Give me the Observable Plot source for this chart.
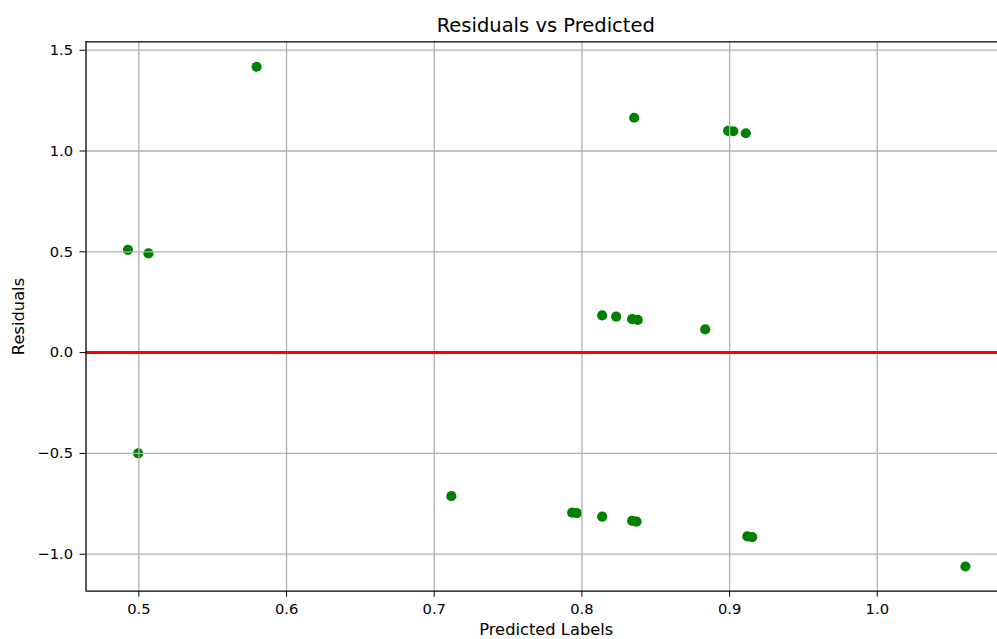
<!DOCTYPE html>
<html>
<head>
<meta charset="utf-8">
<script src="https://cdn.jsdelivr.net/npm/d3@7"></script>
<script src="https://cdn.jsdelivr.net/npm/@observablehq/plot@0.6"></script>
<style>
  html, body { margin: 0; padding: 0; background: #fff; overflow: hidden; }
</style>
</head>
<body>
<div id="chart"></div>
<script>
// ---- data ----
const predicted = [0.4926, 0.5065, 0.4995, 0.5797, 0.8354, 0.8990, 0.9025, 0.9110,
                   0.8137, 0.8232, 0.8340, 0.8378, 0.8835,
                   0.7116, 0.7934, 0.7966, 0.8137, 0.8340, 0.8370, 0.9120, 0.9153, 1.0597];
const residuals = [0.510, 0.492, -0.500, 1.418, 1.165, 1.100, 1.098, 1.088,
                   0.185, 0.178, 0.166, 0.162, 0.115,
                   -0.712, -0.794, -0.796, -0.814, -0.835, -0.838, -0.912, -0.915, -1.061];
const xTicks = [0.5, 0.6, 0.7, 0.8, 0.9, 1.0];
const yTicks = [-1.0, -0.5, 0.0, 0.5, 1.0, 1.5];
const xDomain = [0.4642, 1.0814];
const yDomain = [-1.1835, 1.5417];
const titleText = ["Residuals vs Predicted"];
const xLabel = ["Predicted Labels"];
const yLabel = ["Residuals"];

const points = predicted.map((p, i) => ({p, r: residuals[i]}));

const chart = Plot.plot({
  width: 997,
  height: 639,
  marginTop: 41.3,
  marginBottom: 48.3,
  marginLeft: 85.5,
  marginRight: 0,
  style: {fontFamily: "DejaVu Sans", fontSize: "14.7px", background: "white", color: "black"},
  x: {domain: xDomain, ticks: xTicks, tickFormat: d3.format(".1f"), tickSize: 6, tickPadding: 6.5, label: null},
  y: {domain: yDomain, ticks: yTicks, tickFormat: d3.format(".1f"), tickSize: 6, tickPadding: 7, label: null},
  marks: [
    Plot.dot(points, {x: "p", y: "r", r: 5.1, fill: "#008000", stroke: "none"}),
    Plot.ruleX(xTicks, {stroke: "#b0b0b0", strokeWidth: 1.3}),
    Plot.ruleY(yTicks, {stroke: "#b0b0b0", strokeWidth: 1.3}),
    Plot.ruleY([0], {stroke: "#ff0000", strokeWidth: 3}),
    Plot.ruleX([xDomain[0]], {stroke: "black", strokeWidth: 1.3}),
    Plot.ruleY([yDomain[0]], {stroke: "black", strokeWidth: 1.3}),
    Plot.ruleY([yDomain[1]], {stroke: "black", strokeWidth: 1.3}),
    Plot.text(titleText, {text: d => d, frameAnchor: "top", lineAnchor: "middle", textAnchor: "middle", dy: -16.5, dx: 4, fontSize: 19.5, fill: "black"}),
    Plot.text(xLabel, {text: d => d, frameAnchor: "bottom", lineAnchor: "middle", textAnchor: "middle", dy: 38.6, dx: 4.5, fontSize: 16.3, fill: "black"}),
    Plot.text(yLabel, {text: d => d, frameAnchor: "left", lineAnchor: "middle", textAnchor: "middle", rotate: -90, dx: -67.2, fontSize: 16.3, fill: "black"})
  ]
});
document.getElementById("chart").appendChild(chart);
</script>
</body>
</html>
